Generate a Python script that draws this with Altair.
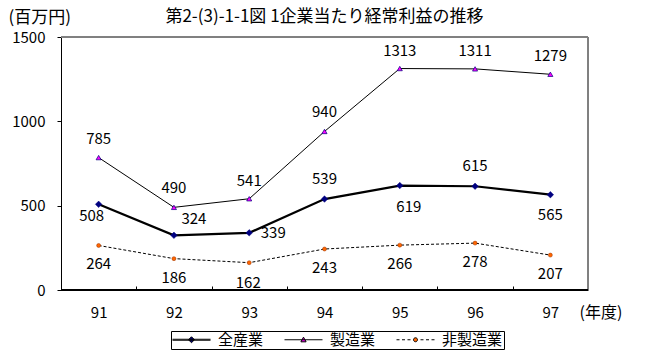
import altair as alt
import pandas as pd

# ---- data ----
years = ["91", "92", "93", "94", "95", "96", "97"]
series_names = ["全産業", "製造業", "非製造業"]
all_industries = [508, 324, 339, 539, 619, 615, 565]
manufacturing = [785, 490, 541, 940, 1313, 1311, 1279]
non_manufacturing = [264, 186, 162, 243, 266, 278, 207]

# ---- label placement (pixel offsets of value labels from their points) ----
label_dx = [-7, 20, 24, 0, 9, 0, 0,
            0, 0, 0, 0, 0, 0, 0,
            0, 0, -1, 0, 0, 0, 0]
label_dy = [12, -16, 0, -20, 21, -20, 20,
            -19, -19, -18, -19, -18, -18, -18,
            19, 19, 20, 19, 19, 19, 19]

df = pd.DataFrame({
    "year": years * 3,
    "series": [s for s in series_names for _ in years],
    "value": all_industries + manufacturing + non_manufacturing,
    "dx": label_dx,
    "dy": label_dy,
})

W, H = 527, 253
FONT = "Noto Sans CJK JP"
NAVY, MAGENTA, ORANGE = "#000080", "#FF00FF", "#FF6600"

x_enc = alt.X(
    "year:N",
    scale=alt.Scale(type="band", domain=years, paddingInner=0, paddingOuter=0),
    bandPosition=0.5,
    axis=alt.Axis(
        title="(年度)", titleFont=FONT, titleFontSize=16, titleFontWeight="normal",
        titleColor="black", titleAlign="left", titleBaseline="middle",
        titleX=518, titleY=26, titleAngle=0,
        domain=False, ticks=True, tickBand="extent", tickSize=4, tickColor="black",
        offset=-4, labelAngle=0, labelFont=FONT, labelFontSize=15, labelColor="black",
        labelBaseline="middle", labelPadding=22,
    ),
)
y_enc = alt.Y(
    "value:Q",
    scale=alt.Scale(domain=[0, 1500], nice=False, zero=True),
    axis=alt.Axis(
        values=[0, 500, 1000, 1500], grid=False, format="d",
        domainColor="black", tickColor="black", tickSize=4,
        labelFont=FONT, labelFontSize=15, labelColor="black", labelPadding=12,
        title="(百万円)", titleFont=FONT, titleFontSize=17, titleFontWeight="normal",
        titleColor="black", titleAngle=0, titleAlign="left", titleBaseline="middle",
        titleX=-53, titleY=-20,
    ),
)

base = alt.Chart(df)

top_border = base.mark_rule(color="#808080", strokeWidth=1).encode(y=alt.datum(1500))
right_border = base.mark_rule(color="#808080", strokeWidth=1).encode(x=alt.value("width"))
bottom_axis = base.mark_rule(color="black", strokeWidth=1).encode(y=alt.datum(0))

line_styles = {
    "全産業": dict(strokeWidth=2.2),
    "製造業": dict(strokeWidth=1),
    "非製造業": dict(strokeWidth=1, strokeDash=[3, 2]),
}
point_styles = {
    "全産業": dict(shape="diamond", size=42, fill=NAVY, stroke=NAVY, strokeWidth=0.5),
    "製造業": dict(shape="triangle-up", size=26, fill=MAGENTA, stroke=NAVY, strokeWidth=0.7),
    "非製造業": dict(shape="circle", size=16, fill=ORANGE, stroke="#993300", strokeWidth=0.5),
}

layers = [top_border, right_border]
for s in series_names:
    sub = base.transform_filter(alt.datum.series == s)
    layers.append(sub.mark_line(color="black", **line_styles[s]).encode(x=x_enc, y=y_enc))
layers.append(bottom_axis)
for s in series_names:
    sub = base.transform_filter(alt.datum.series == s)
    layers.append(sub.mark_point(filled=True, opacity=1, **point_styles[s]).encode(x=x_enc, y=y_enc))

labels = base.mark_text(
    font=FONT, fontSize=15, color="black", align="center", baseline="middle",
    dx=alt.ExprRef("datum.dx"), dy=alt.ExprRef("datum.dy"),
).encode(x=x_enc, y=y_enc, text="value:Q")
layers.append(labels)

# ---- legend (symbols: line + marker drawn as one custom path) ----
S = 7.0  # px per path unit (symbolSize = (2*S)^2)


def u(px):
    return round(px / S - 1, 3)


def hseg(a, b, yoff=0.0):
    return f"M{u(a)},{yoff}H{u(b)}"


c = 19.0
solid_thick = hseg(0, 38, -0.07) + hseg(0, 38, 0.07)
solid = hseg(0, 38)
dashed = "".join(hseg(a, b) for a, b in [(0, 3), (5.5, 8.5), (11, 14), (24, 27), (29.5, 32.5), (35, 38)])
d = 3.0 / S
diamond = f"M{u(c)},{-d:.3f}L{u(c) + d:.3f},0L{u(c)},{d:.3f}L{u(c) - d:.3f},0Z"
t = 2.6 / S
triangle = f"M{u(c)},{-t:.3f}L{u(c) + t:.3f},{t * 0.8:.3f}L{u(c) - t:.3f},{t * 0.8:.3f}Z"
r = 2.0 / S
circle = f"M{u(c) - r:.3f},0A{r:.3f},{r:.3f} 0 1,0 {u(c) + r:.3f},0A{r:.3f},{r:.3f} 0 1,0 {u(c) - r:.3f},0Z"
legend_paths = [solid_thick + diamond, solid + triangle, dashed + circle]

leg = alt.Legend(
    title=None, orient="none", legendX=110, legendY=294, direction="horizontal", columns=3,
    strokeColor="black", fillColor="white", padding=1, columnPadding=18,
    labelOffset=31, labelFont=FONT, labelFontSize=15, labelColor="black", labelLimit=0,
    symbolSize=(2 * S) ** 2, symbolStrokeWidth=1, symbolOpacity=1,
)
legend_layer = base.transform_filter("false").mark_point(filled=True, opacity=1, strokeWidth=1).encode(
    x=x_enc, y=y_enc,
    fill=alt.Fill("series:N", scale=alt.Scale(domain=series_names, range=[NAVY, MAGENTA, ORANGE]), legend=leg),
    stroke=alt.Stroke("series:N", scale=alt.Scale(domain=series_names, range=["black"] * 3), legend=leg),
    shape=alt.Shape("series:N", scale=alt.Scale(domain=series_names, range=legend_paths), legend=leg),
)
layers.append(legend_layer)

chart = alt.layer(*layers).properties(
    width=W, height=H,
    title=alt.TitleParams(
        "第2-(3)-1-1図 1企業当たり経常利益の推移", font=FONT, fontSize=17, fontWeight="normal",
        color="black", anchor="middle", frame="group", baseline="middle", offset=-26,
    ),
    autosize=alt.AutoSizeParams(type="none"),
    padding={"left": 61, "top": 37, "right": 61, "bottom": 71},
    background="white",
).configure_view(stroke=None)

chart.save("out.html", embed_options={"renderer": "svg", "actions": False})
